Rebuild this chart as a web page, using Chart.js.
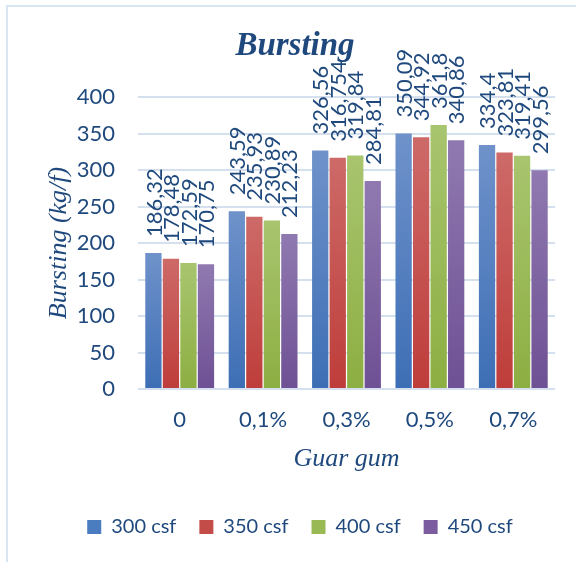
<!DOCTYPE html>
<html>
<head>
<meta charset="utf-8">
<script src="https://cdn.jsdelivr.net/npm/chart.js@4"></script>
<style>
  html, body { margin: 0; padding: 0; background: #ffffff; }
  #wrap { width: 576px; height: 562px; position: relative; }
</style>
</head>
<body>
<div id="wrap"><canvas id="c" width="576" height="562"></canvas></div>
<script>
const categories = ['0', '0,1%', '0,3%', '0,5%', '0,7%'];
const seriesNames = ['300 csf', '350 csf', '400 csf', '450 csf'];
const s300 = [186.32, 243.59, 326.56, 350.09, 334.4];
const s350 = [178.48, 235.93, 316.754, 344.92, 323.81];
const s400 = [172.59, 230.89, 319.84, 361.8, 319.41];
const s450 = [170.75, 212.23, 284.81, 340.86, 299.56];
const yTicks = [0, 50, 100, 150, 200, 250, 300, 350, 400];
const chartTitle = 'Bursting';
const yTitle = 'Bursting (kg/f)';
const xTitle = 'Guar gum';

const baseColors = ['#4A7CC0', '#C34B48', '#98B954', '#7B5C9F'];
const lightColors = ['#6F92CA', '#CD6A68', '#A8C56F', '#9079B0'];
const darkColors = ['#3D6EB5', '#BE3D3A', '#8DAE42', '#6E5094'];

const TEXT = '#1F497D';
const SANS = 'Lato, "Open Sans", sans-serif';
const SERIF = '"Liberation Serif", "DejaVu Serif", serif';

function gradFill(i) {
  return function (ctx) {
    const chart = ctx.chart;
    if (!chart.chartArea || ctx.type !== 'data' || !chart.scales.y) return baseColors[i];
    const ys = chart.scales.y;
    const top = ys.getPixelForValue(ctx.raw);
    const bot = ys.getPixelForValue(0);
    if (!isFinite(top) || !isFinite(bot) || bot - top < 1) return baseColors[i];
    const g = chart.ctx.createLinearGradient(0, top, 0, bot);
    g.addColorStop(0, lightColors[i]);
    g.addColorStop(1, darkColors[i]);
    return g;
  };
}

const allSeries = [s300, s350, s400, s450];

const frame = {
  id: 'frame',
  beforeDraw(chart) {
    const c = chart.ctx;
    c.save();
    c.strokeStyle = '#DAE5F2';
    c.lineWidth = 2;
    c.beginPath();
    c.moveTo(7, 562);
    c.lineTo(7, 6);
    c.lineTo(576, 6);
    c.stroke();
    c.restore();
  }
};

const titles = {
  id: 'titles',
  afterDraw(chart) {
    const c = chart.ctx;
    const area = chart.chartArea;
    c.save();
    c.fillStyle = TEXT;
    c.textBaseline = 'alphabetic';
    c.textAlign = 'center';
    c.font = 'italic bold 33px ' + SERIF;
    c.fillText(chartTitle, 295, 55);
    c.font = 'italic 26px ' + SERIF;
    c.fillText(xTitle, (area.left + area.right) / 2, 466);
    c.save();
    c.translate(66, (area.top + area.bottom) / 2);
    c.rotate(-Math.PI / 2);
    c.fillText(yTitle, 0, 0);
    c.restore();
    c.restore();
  }
};

const barLabels = {
  id: 'barLabels',
  afterDatasetsDraw(chart) {
    const c = chart.ctx;
    c.save();
    c.fillStyle = TEXT;
    c.font = '22px ' + SANS;
    c.textAlign = 'left';
    c.textBaseline = 'middle';
    chart.data.datasets.forEach((ds, di) => {
      const meta = chart.getDatasetMeta(di);
      meta.data.forEach((bar, i) => {
        const txt = String(ds.data[i]).replace('.', ',');
        c.save();
        c.translate(bar.x, bar.y - 16);
        c.rotate(-Math.PI / 2);
        c.fillText(txt, 0, 1);
        c.restore();
      });
    });
    c.restore();
  }
};

new Chart(document.getElementById('c'), {
  type: 'bar',
  data: {
    labels: categories,
    datasets: allSeries.map((d, i) => ({
      label: seriesNames[i],
      data: d,
      backgroundColor: gradFill(i),
      borderWidth: 0,
      categoryPercentage: 0.84,
      barPercentage: 0.93
    }))
  },
  options: {
    responsive: false,
    animation: false,
    layout: { padding: { left: 45, right: 21, top: 97, bottom: 15 } },
    plugins: {
      title: { display: false },
      legend: {
        position: 'bottom',
        labels: {
          color: TEXT,
          font: { family: SANS, size: 20 },
          boxWidth: 14,
          boxHeight: 14,
          padding: 23,
          generateLabels(chart) {
            return chart.data.datasets.map((ds, i) => ({
              text: ds.label,
              fillStyle: baseColors[i],
              strokeStyle: baseColors[i],
              lineWidth: 0,
              hidden: false,
              datasetIndex: i,
              fontColor: TEXT
            }));
          }
        }
      },
      tooltip: { enabled: false }
    },
    scales: {
      x: {
        grid: { display: false, drawTicks: false },
        border: { display: false },
        ticks: { color: TEXT, font: { family: SANS, size: 22 }, padding: 18, maxRotation: 0 },
        afterFit(scale) { scale.height = 105; }
      },
      y: {
        min: 0,
        max: 400,
        afterBuildTicks(scale) { scale.ticks = yTicks.map(v => ({ value: v })); },
        grid: { color: '#D5E0EF', lineWidth: 2, drawTicks: false },
        border: { display: false },
        ticks: { color: TEXT, font: { family: SANS, size: 22 }, padding: 23 },
        afterFit(scale) { scale.width = 93; }
      }
    }
  },
  plugins: [frame, barLabels, titles]
});
</script>
</body>
</html>
